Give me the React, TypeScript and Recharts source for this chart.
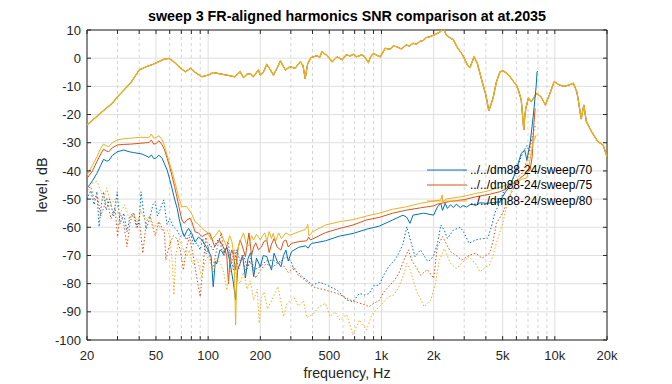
import React from 'react';
import {
  LineChart,
  Line,
  XAxis,
  YAxis,
  CartesianGrid,
  ReferenceLine,
  ReferenceArea,
  Legend,
  Label,
} from 'recharts';

// MATLAB default colour order
const BLUE = '#0072BD';
const RED = '#D95319';
const YELLOW = '#EDB120';
const INK = '#262626';
const FONT = '"Liberation Sans", Arial, Helvetica, sans-serif';

const title = 'sweep 3 FR-aligned harmonics SNR comparison at at.2035';
const legendNames = ['../../dm88-24/sweep/70', '../../dm88-24/sweep/75', '../../dm88-24/sweep/80'];

const xTicks = [20, 50, 100, 200, 500, 1000, 2000, 5000, 10000, 20000];
const xMinor = [30, 40, 60, 70, 80, 90, 300, 400, 600, 700, 800, 900, 3000, 4000, 6000, 7000, 8000, 9000];
const yTicks = [-100, -90, -80, -70, -60, -50, -40, -30, -20, -10, 0, 10];

type Pt = [number, number];

// frequency response (all three sweeps overlap)
const fr: Pt[] = [
  [20, -23.7], [22, -21.5], [25, -18.5], [28, -16], [30, -13.7], [33, -11], [36, -8.5], [40, -4.2],
  [44, -3.0], [48, -2.2], [52, -1.2], [56, -0.3], [59, -0.1], [62, -0.8], [65, -1.9], [70, -3.8],
  [74, -4.8], [79, -3.6], [84, -5.0], [92, -6.6], [100, -6.0], [107, -5.1], [118, -5.6], [128, -6.0],
  [142, -6.6], [153, -4.8], [160, -6.9], [168, -5.6], [176, -5.5], [182, -6.6], [195, -4.2], [200, -6.0],
  [208, -5.0], [218, -2.2], [229, -4.2], [238, -6.0], [250, -3.5], [261, -1.0], [279, -4.2], [296, -3.0],
  [317, -3.6], [340, -1.3], [352, -2.5], [363, -7.2], [375, -2.0], [392, 0.2], [425, 0.9], [440, 0.3],
  [453, 2.3], [485, 0.9], [500, 0], [519, -1.3], [555, 0.5], [594, -0.6], [625, 1.2], [660, 0.8],
  [690, 1.4], [720, 0.5], [770, 1.2], [800, 0.4], [840, -1.5], [870, 0.8], [900, 1.7], [940, 1.0],
  [985, 0.5], [1050, 3.5], [1120, 3.2], [1170, 4.3], [1220, 4.1], [1300, 3.3], [1390, 4.7], [1450, 4.3],
  [1520, 5.3], [1590, 5.0], [1660, 5.9], [1740, 6.3], [1810, 7.3], [1900, 7.6], [2000, 8.2], [2100, 8.8],
  [2190, 9.4], [2250, 10.5], [2300, 10.2], [2350, 8.5], [2430, 7.6], [2520, 7.0], [2600, 6.5], [2720, 4.1],
  [2940, 1.1], [3150, -2.7], [3240, -3.3], [3350, -1.0], [3420, 0.5], [3570, -1.8], [3830, -8.9], [4000, -13],
  [4160, -18.7], [4400, -14.2], [4600, -8.5], [4830, -4.8], [5050, -4.5], [5290, -5.4], [5500, -6.5],
  [5780, -8.3], [6000, -9.5], [6200, -11.8], [6400, -14.8], [6550, -22], [6620, -25.5], [6700, -21],
  [6800, -17.8], [7040, -14.2], [7320, -15.4], [7600, -13.8], [7840, -12.5], [8320, -13.7], [8820, -16.6],
  [9300, -13.1], [9920, -8.3], [10600, -9.5], [11300, -10.0], [12100, -9.5], [12800, -8.9], [13400, -12],
  [13700, -15.4], [14200, -21.6], [14700, -16.6], [15200, -22.5], [16300, -26.1], [17700, -29.6],
  [19000, -30.8], [20000, -35],
];

// harmonics, solid
const harm70: Pt[] = [
  [20, -46.2], [21.5, -43.5], [22.8, -40.9], [24, -38], [24.9, -35.9], [26, -36.5], [26.7, -36.4], [28, -34.5],
  [29.9, -33.2], [32.6, -32.6], [35, -33.2], [37.2, -33.5], [41.5, -34.0], [45.7, -35.2], [47, -34.3],
  [48.5, -35.6], [50, -35.5], [52, -34.4], [54.3, -35.6], [56, -37.5], [58, -39.7], [60, -43], [61.9, -46.2],
  [64, -50], [66.3, -53.3], [68, -57], [70.5, -61], [72.8, -63.3], [75, -61.5], [77, -60.4], [80.4, -62.2],
  [84, -65.2], [88, -63.5], [92, -64.5], [97.5, -66.9], [100, -68], [104, -70.4], [107, -81.1], [110, -72],
  [112, -73], [117, -68], [123, -69.2], [128, -67], [134, -72.8], [140, -79.9], [144, -85.8], [148, -75],
  [153, -72.8], [158, -70], [164, -78], [170, -71], [176, -69], [183, -77.5], [190, -71], [200, -74],
  [208, -70], [218, -70.4], [225, -73], [232, -75.2], [240, -69.2], [250, -72], [263, -74], [272, -70],
  [281, -68.1], [290, -72], [303, -68.6], [333, -67.1], [364, -66.6], [378, -67.4], [390, -66], [400, -65.7],
  [475, -64.8], [575, -63.1], [685, -62.2], [820, -60.7], [970, -59.6], [1160, -57.4], [1330, -55.7],
  [1400, -56.5], [1460, -58.6], [1520, -55.7], [1750, -55], [2000, -55.7], [2100, -52.8], [2200, -51.5],
  [2250, -54], [2330, -51.5], [2400, -53.3], [2500, -52], [2600, -53], [2700, -51.8], [2850, -53],
  [2950, -52.3], [3100, -52.8], [3300, -51.7], [3500, -52.3], [3700, -51.3], [4100, -51.5], [4400, -51.2],
  [4800, -51], [5200, -47.4], [5500, -45.6], [5900, -40.9], [6400, -33.8], [6700, -32.6], [6900, -36.1],
  [7200, -30.2], [7500, -20.8], [7800, -10.1], [7900, -4.8], [8000, -4.7],
];

const harm75: Pt[] = [
  [20, -42.7], [21.5, -40], [22.8, -36.7], [24, -34], [24.9, -32.3], [26, -33], [26.7, -33.2], [28, -31.8],
  [29.9, -30.8], [32.6, -30.6], [35.6, -30.5], [40.5, -30.2], [45.7, -29.9], [47, -29.0], [48.5, -30.5],
  [50, -30.3], [52, -29.3], [54.3, -30.8], [56, -32.5], [58, -35.5], [60, -38.5], [62, -42], [64, -45.5],
  [66, -49.2], [68, -53], [70.5, -57.4], [72.8, -58.6], [75, -57.5], [78.6, -56.8], [81, -58.5], [84, -61.6],
  [88, -62], [92, -63.3], [97, -62.5], [102, -62], [105, -64], [109, -66.9], [116, -64.5], [120, -66],
  [125, -68.1], [128, -70], [131, -80], [134, -70], [137, -68], [140, -70], [144, -75.2], [148, -68],
  [153, -64.5], [158, -67], [164, -70.4], [168, -66], [172, -62], [178, -70], [183, -67], [188, -65.5],
  [195, -68], [203, -67], [210, -65], [218, -64.6], [225, -69], [232, -66], [240, -64], [250, -67],
  [263, -68.1], [272, -65], [281, -64.5], [290, -67], [303, -65.7], [333, -65.1], [370, -64.8], [380, -63.5],
  [390, -64.5], [475, -61.9], [575, -60.4], [685, -59.2], [820, -57.4], [970, -56.5], [1160, -55.0],
  [1400, -53.9], [1680, -53.1], [2000, -52.4], [2100, -51.8], [2500, -50.8], [3000, -50.2], [3500, -49.2],
  [4200, -48.3], [4800, -47.4], [5200, -46.5], [5600, -45], [6000, -44], [6300, -42.6], [6800, -41],
  [7200, -39.7], [7400, -35], [7550, -24.3], [7700, -17.8],
];

const harm80: Pt[] = [
  [20, -41.5], [21.5, -38], [22.8, -35], [24, -32], [24.9, -30.5], [26, -31.2], [26.7, -31.4], [28, -30],
  [29.9, -29.0], [32.6, -28.6], [35.6, -28.4], [40.5, -28.1], [45.7, -28.1], [47, -26.9], [48.5, -28.4],
  [50, -28.2], [52, -27.5], [54.3, -29], [56, -31], [58, -34.4], [60, -37.5], [62, -40.3], [64, -43.5],
  [66, -46.8], [68, -50], [70.5, -52.7], [75, -52.6], [80, -55], [84, -58], [88, -59], [92, -60.4],
  [100, -62], [104, -64.5], [110, -63], [116, -61], [122, -64], [128, -66.9], [133, -63], [137, -65],
  [141, -70], [144, -94.7], [147, -72], [150, -66], [155, -64], [160, -62], [166, -66], [172, -66.5],
  [178, -63], [183, -64.5], [190, -62.5], [200, -64.5], [206, -63], [212, -62], [218, -65], [225, -61.5],
  [232, -64], [237, -62.2], [245, -65], [255, -62], [265, -64], [280, -62], [296, -62.8], [333, -61.6],
  [364, -60.8], [376, -59], [381, -63], [390, -62.5], [400, -61.6], [475, -59.2], [575, -58.0], [685, -57.3],
  [820, -56.0], [970, -55.0], [1160, -53.6], [1400, -52.7], [1680, -51.5], [2000, -50.7], [2200, -50.3],
  [2240, -48.5], [2260, -51], [2350, -50], [3000, -49], [3500, -48], [4000, -47.3], [4600, -46.2],
  [5000, -45.5], [5500, -44.5], [6000, -44.5], [6400, -43], [6900, -42.5], [7200, -36], [7500, -30],
  [7800, -27.3],
];

// harmonics, dotted
const dot70: Pt[] = [
  [20, -50], [21, -47], [22, -52], [22.8, -47.4], [23.5, -59.8], [24.2, -52], [24.9, -47.4], [25.8, -53.9],
  [27, -50], [28.5, -56], [29.9, -47.4], [31, -58.8], [32.6, -55], [34, -61.6], [35.5, -56], [37.2, -55],
  [39, -60], [40, -58], [41, -47.4], [42.5, -55], [44, -60.5], [46, -57], [48, -52], [49.5, -50.9],
  [51, -56], [52, -55], [54, -52], [55.5, -50.3], [57, -56], [58, -59], [60, -57], [63, -59.8], [66, -61],
  [69, -63.3], [72, -62], [75, -64.5], [79, -62], [82, -66], [86, -65.6], [90, -68], [93, -64],
  [97.5, -69.5], [102, -66], [107, -68], [112, -65], [116, -64], [122, -70], [128, -67], [134, -70],
  [140, -75], [146, -68], [153, -72], [160, -70], [168, -74], [176, -71], [185, -75], [200, -74],
  [215, -72], [237, -71.6], [255, -73], [281, -70.4], [300, -72], [313, -75.2], [330, -76], [350, -77.6],
  [375, -79], [400, -80.5], [440, -79.5], [475, -80.3], [520, -81.5], [555, -82.3], [590, -84], [630, -85.8],
  [685, -86.4], [745, -83.5], [800, -84], [850, -83.5], [900, -80.8], [970, -80.5], [1030, -77], [1100, -74],
  [1180, -72], [1260, -69.2], [1330, -66], [1400, -59.8], [1460, -64], [1560, -70.4], [1680, -68],
  [1840, -72], [1920, -71.6], [2000, -70], [2100, -66], [2200, -59.2], [2300, -61], [2400, -64],
  [2600, -61], [2850, -60], [3000, -62], [3200, -65.7], [3500, -64.5], [3800, -64], [4100, -63.9],
  [4300, -60], [4500, -55], [4900, -50.3], [5000, -48], [5300, -46], [5700, -43], [6000, -40], [6300, -36],
  [6600, -33], [6900, -31], [7100, -33], [7300, -29],
];

const dot75: Pt[] = [
  [20, -47], [21, -45.5], [22, -50], [23, -49], [24, -56], [25, -53], [26, -49.5], [27.5, -57], [29, -53],
  [30, -63.3], [31, -55], [32.5, -58], [34, -66.9], [35.5, -58], [37, -55], [38.5, -60], [40, -57],
  [42, -69.2], [44, -58], [46, -56], [49.5, -63], [52, -58], [56, -62], [57, -71.6], [60, -66], [63, -63],
  [66, -64], [69, -68], [72, -75.2], [75, -67], [78, -63.5], [82, -70], [86, -78], [90, -84.6], [94, -72],
  [97, -63.5], [102, -70], [106, -75], [112, -68], [119, -62], [124, -70], [130, -65], [136, -73],
  [142, -68], [150, -75], [157, -70], [165, -76], [175, -72], [188, -78], [200, -75.2], [215, -73],
  [237, -74], [260, -72], [290, -76], [313, -74], [330, -77], [350, -78], [400, -81.1], [475, -82.3],
  [555, -83.5], [600, -84.5], [660, -85.8], [745, -86.9], [800, -87.5], [850, -88.2], [900, -87],
  [970, -86], [1030, -83], [1100, -81], [1180, -79], [1260, -76.3], [1340, -72], [1430, -68], [1500, -72],
  [1600, -74.5], [1680, -77], [1840, -75], [2000, -78.1], [2100, -66.9], [2250, -63.3], [2500, -68.7],
  [2700, -70], [2900, -71.6], [3200, -70], [3500, -69.2], [3800, -71], [4200, -69.2], [4400, -65],
  [4600, -58.6], [5000, -55], [5400, -50], [5800, -46], [6200, -42], [6600, -40], [7000, -35], [7400, -28],
  [7700, -24],
];

const dot80: Pt[] = [
  [20, -46], [21, -44.5], [22.8, -43.8], [24, -47], [25, -50], [26, -46], [27.5, -52], [29, -50], [31, -55],
  [33, -52], [35, -57], [37, -55], [39, -58], [41, -54], [43, -57.4], [46, -56], [49, -60], [51, -58.5],
  [54, -61], [58, -61], [60, -63], [62, -72], [63.5, -84], [65, -70], [68, -64], [71, -67], [75, -70.5],
  [78, -68], [81, -73], [86, -71], [92, -77.5], [96, -72], [101, -70], [107, -76], [112, -71], [118, -73],
  [123, -76], [128, -82.3], [134, -76], [140, -73], [146, -78], [153, -80], [160, -76], [168, -82],
  [175, -79], [183, -85.8], [192, -82], [197, -94], [203, -85], [210, -83], [220, -89], [232, -86],
  [253, -81.1], [262, -86], [272, -91.7], [285, -87], [313, -85], [333, -88], [355, -86], [370, -92],
  [400, -91], [440, -88], [475, -87], [505, -91.7], [540, -90], [575, -92.9], [630, -91], [685, -98.2],
  [745, -92.9], [790, -95], [820, -96.5], [880, -91], [970, -88.2], [1050, -86], [1100, -84.6], [1180, -84],
  [1260, -81.1], [1340, -77], [1400, -72.8], [1460, -75], [1600, -83], [1700, -86], [1760, -88.2],
  [1920, -86], [2050, -80], [2150, -72], [2300, -67.6], [2500, -72.8], [2700, -74.6], [3000, -72],
  [3200, -70.4], [3500, -73], [3700, -75.8], [4000, -74], [4200, -73.5], [4400, -70], [4600, -65.7],
  [5000, -58.6], [5300, -52], [5600, -47], [6000, -44], [6400, -42], [6800, -39], [7200, -34], [7600, -28],
  [7800, -27],
];

const pts = (a: Pt[]) => a.map(([f, v]) => ({ f, v }));

// tick marks drawn inward, ~4px long
const TICK_DB = 1.4;
const TICK_X = 1.055;

function LegendBox() {
  const colors = [BLUE, RED, YELLOW];
  return (
    <div style={{ fontFamily: FONT, fontSize: 12, color: '#000' }}>
      {legendNames.map((name, i) => (
        <div key={name} style={{ display: 'flex', alignItems: 'center', height: 15.5 }}>
          <svg width={40} height={4} style={{ display: 'block' }}>
            <line x1={0} y1={2} x2={40} y2={2} stroke={colors[i]} strokeWidth={1} />
          </svg>
          <span style={{ marginLeft: 3, whiteSpace: 'nowrap', lineHeight: '14px' }}>{name}</span>
        </div>
      ))}
    </div>
  );
}

export default function App() {
  const tickStyle = { fontSize: 13, fill: INK, fontFamily: FONT };
  const fmt = (v: number) => (v >= 1000 ? `${v / 1000}k` : `${v}`);
  const line = (key: string, data: Pt[], color: string, dotted = false, width = 1) => (
    <Line
      key={key}
      data={pts(data)}
      dataKey="v"
      type="linear"
      stroke={color}
      strokeWidth={width}
      strokeDasharray={dotted ? '1.5 2' : undefined}
      dot={false}
      activeDot={false}
      isAnimationActive={false}
      legendType="none"
    />
  );

  return (
    <div style={{ position: 'absolute', left: 0, top: 0, width: 672, height: 384, background: '#fff', fontFamily: FONT }}>
      <div
        style={{
          position: 'absolute', left: 87, top: 8, width: 520, textAlign: 'center',
          fontSize: 14.3, fontWeight: 'bold', lineHeight: '17px', color: '#000', zIndex: 2,
        }}
      >
        {title}
      </div>
      <LineChart width={672} height={384} margin={{ top: 30, right: 65, bottom: 14, left: 27 }}>
        <CartesianGrid stroke="#dfdfdf" />
        {xMinor.map((v) => (
          <ReferenceLine key={`mg${v}`} x={v} stroke="#d4d4d4" strokeDasharray="3 3" />
        ))}
        <XAxis
          dataKey="f"
          type="number"
          scale="log"
          domain={[20, 20000]}
          allowDataOverflow
          ticks={xTicks}
          interval={0}
          tickFormatter={fmt}
          tick={tickStyle}
          tickLine={false}
          axisLine={false}
          tickSize={0}
          tickMargin={11}
          height={30}
        >
          <Label value="frequency, Hz" position="insideBottom" offset={-8} style={{ fontSize: 14.3, fill: INK, fontFamily: FONT }} />
        </XAxis>
        <YAxis
          type="number"
          domain={[-100, 10]}
          allowDataOverflow
          ticks={yTicks}
          interval={0}
          tick={tickStyle}
          tickLine={false}
          axisLine={false}
          tickSize={0}
          tickMargin={6}
          width={60}
        >
          <Label
            value="level, dB"
            angle={-90}
            position="insideLeft"
            offset={15}
            style={{ fontSize: 14.3, fill: INK, fontFamily: FONT, textAnchor: 'middle' }}
          />
        </YAxis>

        {line('fr70', fr, BLUE)}
        {line('fr75', fr, RED)}
        {line('fr80', fr, YELLOW, false, 1.4)}
        {line('h70', harm70, BLUE)}
        {line('h75', harm75, RED)}
        {line('h80', harm80, YELLOW)}
        {line('d70', dot70, BLUE, true)}
        {line('d75', dot75, RED, true)}
        {line('d80', dot80, YELLOW, true)}

        <ReferenceArea x1={20} x2={20000} y1={-100} y2={10} fill="none" stroke={INK} strokeWidth={1} />
        {[...xTicks, ...xMinor].map((v) => (
          <ReferenceLine key={`tb${v}`} segment={[{ x: v, y: -100 }, { x: v, y: -100 + TICK_DB }]} stroke={INK} />
        ))}
        {[...xTicks, ...xMinor].map((v) => (
          <ReferenceLine key={`tt${v}`} segment={[{ x: v, y: 10 }, { x: v, y: 10 - TICK_DB }]} stroke={INK} />
        ))}
        {yTicks.map((v) => (
          <ReferenceLine key={`tl${v}`} segment={[{ x: 20, y: v }, { x: 20 * TICK_X, y: v }]} stroke={INK} />
        ))}
        {yTicks.map((v) => (
          <ReferenceLine key={`tr${v}`} segment={[{ x: 20000 / TICK_X, y: v }, { x: 20000, y: v }]} stroke={INK} />
        ))}

        <Legend
          layout="vertical"
          align="center"
          verticalAlign="middle"
          wrapperStyle={{ left: 427, top: 162, width: 200, height: 48 }}
          content={() => <LegendBox />}
        />
      </LineChart>
    </div>
  );
}
